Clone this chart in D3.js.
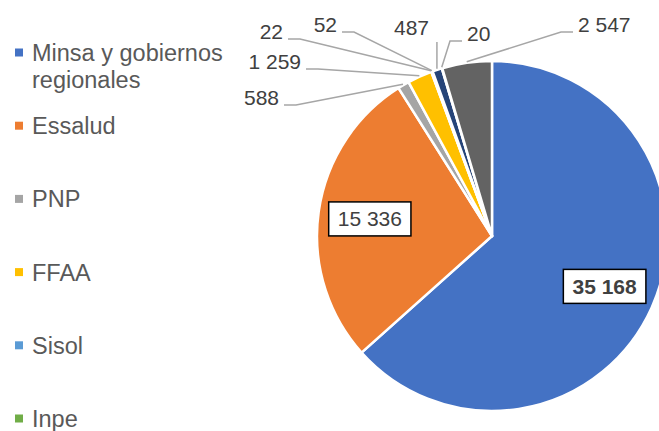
<!DOCTYPE html>
<html>
<head>
<meta charset="utf-8">
<script src="https://cdn.jsdelivr.net/npm/d3@7"></script>
<style>
  html, body { margin: 0; padding: 0; background: #fff; }
  svg { display: block; font-family: "Liberation Sans", Arial, sans-serif; }
</style>
</head>
<body>
<div id="chart"></div>
<script>
// data, clockwise from 12 o'clock
const categories = ["Minsa y gobiernos regionales", "Essalud", "PNP", "FFAA", "Sisol", "Inpe",
                    "Municipalidades", "Universidades", "Privados"];
const values = [35168, 15336, 588, 1259, 22, 52, 487, 20, 2547];
const colors = ["#4472C4", "#ED7D31", "#A5A5A5", "#FFC000", "#5B9BD5", "#70AD47",
                "#264478", "#9E480E", "#636363"];
// which labels sit inside the pie in a framed box
const boxed = [true, true, false, false, false, false, false, false, false];
const bold = [true, false, false, false, false, false, false, false, false];

// outside label placement: text x, baseline y, anchor (index matches values)
const outLabels = {
  2: {x: 279, y: 105, anchor: "end"},
  3: {x: 301, y: 69, anchor: "end"},
  4: {x: 283, y: 39, anchor: "end"},
  5: {x: 337, y: 32, anchor: "end"},
  6: {x: 429, y: 35, anchor: "end", vertical: true},
  7: {x: 467, y: 41, anchor: "start"},
  8: {x: 578, y: 32, anchor: "start"}
};

const width = 659, height = 431;
const cx = 492, cy = 236, radius = 175;

const fmt = v => d3.format(",")(v).replace(/,/g, " ");

const svg = d3.select("#chart").append("svg")
  .attr("width", width)
  .attr("height", height);

const pie = d3.pie().sort(null).value(d => d)
const arcs = pie(values);

const arc = d3.arc().innerRadius(0).outerRadius(radius);
const labelArc = d3.arc().innerRadius(radius * 0.705).outerRadius(radius * 0.705);
const edgeArc = d3.arc().innerRadius(radius + 1).outerRadius(radius + 1);

const g = svg.append("g").attr("transform", `translate(${cx}, ${cy})`);

g.selectAll("path.slice")
  .data(arcs)
  .enter()
  .append("path")
  .attr("class", "slice")
  .attr("d", arc)
  .attr("fill", (d, i) => colors[i])
  .attr("stroke", "#fff")
  .attr("stroke-width", 2.5)
  .attr("stroke-linejoin", "round");

// inside boxed labels
arcs.forEach((d, i) => {
  if (!boxed[i]) return;
  const [lx, ly] = labelArc.centroid(d);
  const t = g.append("text")
    .attr("x", lx)
    .attr("y", ly)
    .attr("text-anchor", "middle")
    .attr("dominant-baseline", "central")
    .attr("font-size", 21)
    .attr("font-weight", bold[i] ? "bold" : "normal")
    .attr("fill", "#404040")
    .text(fmt(values[i]));
  const bb = t.node().getBBox();
  g.insert("rect", "text")
    .attr("x", lx - bb.width / 2 - 9)
    .attr("y", ly - 17)
    .attr("width", bb.width + 18)
    .attr("height", 34)
    .attr("fill", "#fff")
    .attr("stroke", "#000")
    .attr("stroke-width", 1.5);
});

// outside labels with leader lines
arcs.forEach((d, i) => {
  const lab = outLabels[i];
  if (!lab) return;
  const [ex, ey] = edgeArc.centroid(d);
  const sx = ex + cx, sy = ey + cy;
  let pts;
  if (lab.vertical) {
    pts = [[sx, sy], [sx, lab.y + 7]];
  } else {
    const dir = lab.anchor === "end" ? 1 : -1;
    const near = lab.x + dir * 5;
    const knee = lab.x + dir * 17;
    pts = [[sx, sy], [knee, lab.y], [near, lab.y]];
  }
  svg.append("path")
    .attr("d", d3.line()(pts))
    .attr("fill", "none")
    .attr("stroke", "#A6A6A6")
    .attr("stroke-width", 1.5);
  svg.append("text")
    .attr("x", lab.x)
    .attr("y", lab.y)
    .attr("text-anchor", lab.anchor)
    .attr("font-size", 21)
    .attr("fill", "#404040")
    .text(fmt(values[i]));
});

// legend (the original only shows the entries that fit in the frame)
const legendTop = 53, legendStep = 73.2;
const legend = svg.append("g");
categories.forEach((c, i) => {
  const yc = legendTop + i * legendStep;
  if (yc > height) return;
  legend.append("rect")
    .attr("x", 15)
    .attr("y", yc - 4.5)
    .attr("width", 8)
    .attr("height", 8)
    .attr("fill", colors[i]);
  const words = i === 0 ? ["Minsa y gobiernos", "regionales"] : [c];
  const t = legend.append("text")
    .attr("x", 32)
    .attr("y", yc + 8)
    .attr("font-size", 23.5)
    .attr("fill", "#595959");
  words.forEach((w, k) => {
    t.append("tspan")
      .attr("x", 32)
      .attr("dy", k === 0 ? 0 : 27)
      .text(w);
  });
});
</script>
</body>
</html>
